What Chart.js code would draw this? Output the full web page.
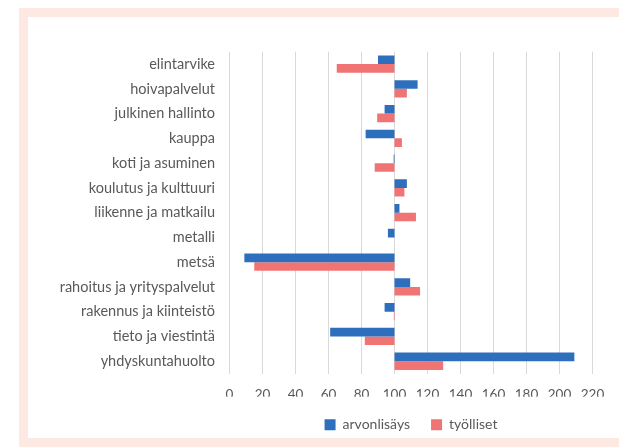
<!DOCTYPE html>
<html>
<head>
<meta charset="utf-8">
<script src="https://cdn.jsdelivr.net/npm/chart.js@4"></script>
<style>
  body { margin: 0; background: #fff; width: 619px; height: 448px; overflow: hidden; position: relative; }
  #frame { position: absolute; left: 19px; top: 8px; width: 640px; height: 421px; border: 9px solid #fde9e1; border-right: none; }
  #chart { position: absolute; left: 0; top: 0; }
</style>
</head>
<body>
<div id="frame"></div>
<canvas id="chart" width="619" height="448"></canvas>
<script>
const categories = ['elintarvike', 'hoivapalvelut', 'julkinen hallinto', 'kauppa', 'koti ja asuminen',
  'koulutus ja kulttuuri', 'liikenne ja matkailu', 'metalli', 'metsä', 'rahoitus ja yrityspalvelut',
  'rakennus ja kiinteistö', 'tieto ja viestintä', 'yhdyskuntahuolto'];
const arvonlisays = [90, 114, 94, 82.5, 99.5, 107.5, 103, 96, 9, 109.5, 94, 61, 209];
const tyolliset = [65, 107.5, 89.5, 104.5, 88, 106, 113, 100, 15, 115.5, 99.6, 82, 129.5];
const baseline = 100;
const xTicks = [0, 20, 40, 60, 80, 100, 120, 140, 160, 180, 200, 220];

const font = "Lato, 'Open Sans', sans-serif";

new Chart(document.getElementById('chart'), {
  type: 'bar',
  data: {
    labels: categories,
    datasets: [{
      label: 'arvonlisäys',
      data: arvonlisays.map(v => [baseline, v]),
      backgroundColor: '#2e6fbd'
    }, {
      label: 'työlliset',
      data: tyolliset.map(v => [baseline, v]),
      backgroundColor: '#f07474'
    }]
  },
  options: {
    indexAxis: 'y',
    responsive: false,
    animation: false,
    devicePixelRatio: 1,
    layout: { padding: { left: 0, right: 26.5, top: 51.7, bottom: 6.2 } },
    datasets: { bar: { categoryPercentage: 0.7, barPercentage: 1.0 } },
    scales: {
      x: {
        min: 0, max: 220,
        afterBuildTicks: s => { s.ticks = xTicks.map(v => ({ value: v })); },
        afterFit: s => { s.height = 23.2; },
        grid: { color: '#d9d9d9', drawTicks: false },
        border: { display: false },
        ticks: { color: '#595959', padding: 13, maxRotation: 0, font: { family: font, size: 13.5 } }
      },
      y: {
        afterFit: s => { s.width = 229.5; },
        grid: { display: false, drawTicks: false },
        border: { display: false },
        ticks: { color: '#595959', padding: 14.5, font: { family: font, size: 14.5 } }
      }
    },
    plugins: {
      legend: {
        position: 'bottom',
        fullSize: false,
        labels: { boxWidth: 11, boxHeight: 11, padding: 21, color: '#595959', font: { family: font, size: 14 } }
      },
      tooltip: { enabled: false }
    }
  }
});
</script>
</body>
</html>
